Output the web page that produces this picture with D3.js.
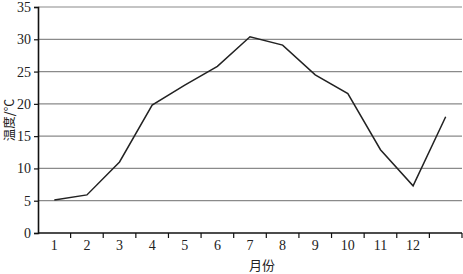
<!DOCTYPE html>
<meta charset="utf-8">
<script src="https://d3js.org/d3.v7.min.js"></script>
<style>
body { margin: 0; background: #fff; }
text { font-family: "Liberation Serif", "Times New Roman", serif; fill: #222; }
.cjk { font-family: "Noto Sans CJK SC", sans-serif; }
</style>
<body>
<script>
// month categories (13th slot has no label)
var months = ["1","2","3","4","5","6","7","8","9","10","11","12",""];
var temps = [5.1, 5.9, 11, 19.8, 22.9, 25.8, 30.4, 29.1, 24.5, 21.6, 12.9, 7.3, 18.0];
var yTicks = [0, 5, 10, 15, 20, 25, 30, 35];

var width = 463, height = 274;
var plotLeft = 38, plotRight = 462, plotTop = 7, plotBottom = 233;

var svg = d3.select("body").append("svg")
    .attr("width", width)
    .attr("height", height);

var x = d3.scaleBand().domain(d3.range(months.length)).range([plotLeft, plotRight]).padding(0);
var y = d3.scaleLinear().domain([0, 35]).range([plotBottom, plotTop]);

// gridlines
svg.append("g")
  .selectAll("line")
  .data(yTicks.slice(1))
  .enter().append("line")
    .attr("x1", plotLeft).attr("x2", plotRight)
    .attr("y1", function(d) { return y(d); })
    .attr("y2", function(d) { return y(d); })
    .attr("stroke", "#8a8a8a")
    .attr("stroke-width", 1.2);

// y axis
var yAxis = svg.append("g")
    .attr("transform", "translate(" + plotLeft + ",0)")
    .call(d3.axisLeft(y).tickValues(yTicks).tickSize(4).tickPadding(3));
yAxis.select(".domain").attr("stroke", "#111").attr("stroke-width", 1.6);
yAxis.selectAll(".tick line").attr("stroke", "#111").attr("stroke-width", 1.2);
yAxis.selectAll("text").style("font-size", "14px").attr("fill", "#222")
    .style("font-family", "Liberation Serif, serif");

// x axis: ticks at band boundaries, labels at band centers
var xg = svg.append("g").attr("transform", "translate(0," + plotBottom + ")");
xg.append("line").attr("x1", plotLeft).attr("x2", plotRight).attr("stroke", "#111").attr("stroke-width", 1.6);
xg.selectAll(".bt")
  .data(d3.range(months.length))
  .enter().append("line")
    .attr("x1", function(d) { return x(d) + x.bandwidth(); })
    .attr("x2", function(d) { return x(d) + x.bandwidth(); })
    .attr("y1", 0).attr("y2", 5)
    .attr("stroke", "#111").attr("stroke-width", 1.2);
xg.selectAll(".lab")
  .data(months)
  .enter().append("text")
    .attr("x", function(d, i) { return x(i) + x.bandwidth() / 2; })
    .attr("y", 17)
    .attr("text-anchor", "middle")
    .style("font-size", "14px")
    .text(function(d) { return d; });

// line
var line = d3.line()
    .x(function(d, i) { return x(i) + x.bandwidth() / 2; })
    .y(function(d) { return y(d); });

svg.append("path")
    .datum(temps)
    .attr("d", line)
    .attr("fill", "none")
    .attr("stroke", "#222")
    .attr("stroke-width", 1.5);

// axis titles
svg.append("text")
    .attr("class", "cjk")
    .attr("x", 262).attr("y", 270)
    .attr("text-anchor", "middle")
    .style("font-size", "13px")
    .text("月份");

svg.append("text")
    .attr("class", "cjk")
    .attr("transform", "translate(14,120) rotate(-90)")
    .attr("text-anchor", "middle")
    .style("font-size", "12.5px")
    .text("温度/℃");
</script>
</body>
